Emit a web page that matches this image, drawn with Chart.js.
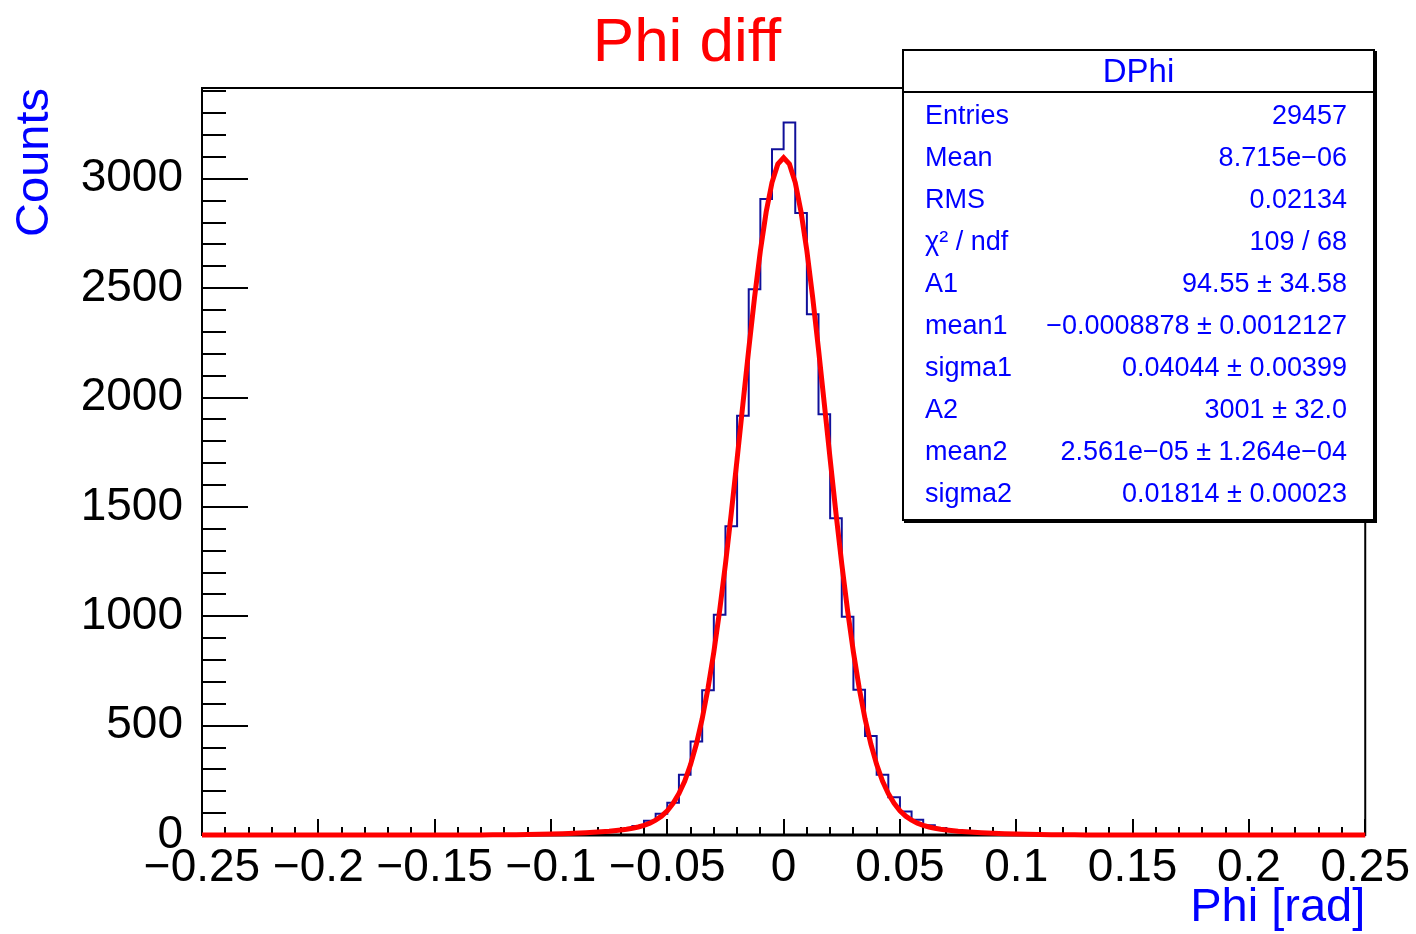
<!DOCTYPE html>
<html>
<head>
<meta charset="utf-8">
<title>Phi diff</title>
<script src="https://cdn.jsdelivr.net/npm/chart.js@4.4.1/dist/chart.umd.min.js"></script>
<style>
  body { margin: 0; background: #fff; font-family: "Liberation Sans", Arial, sans-serif; }
  #wrap { position: relative; width: 1416px; height: 934px; overflow: hidden; }
  #title { position: absolute; left: 487px; top: 9px; width: 400px; text-align: center;
           font-size: 62px; line-height: 1; color: #ff0000; }
  #stats { position: absolute; left: 902px; top: 49px; width: 469px; background: #fff;
           border: 2px solid #000; color: #0000ff; box-shadow: 2px 2px 0 #000; }
  #stats .hdr { height: 40px; line-height: 40px; text-align: center; font-size: 33px;
                border-bottom: 2px solid #000; }
  #stats .rows { padding: 1px 26px 5px 21px; }
  #stats .row { display: flex; justify-content: space-between; height: 42px; line-height: 42px;
                font-size: 27px; white-space: nowrap; }
</style>
</head>
<body>
<div id="wrap">
  <canvas id="chartCanvas" width="1416" height="934"></canvas>
  <div id="title">Phi diff</div>
  <div id="stats"><div class="hdr">DPhi</div><div class="rows" id="statRows"></div></div>
</div>
<script>
// histogram: 100 bins of 0.005 from -0.25 to 0.25
const binLow = -0.25;
const binWidth = 0.005;
const counts = [
  0, 0, 0, 0, 0, 0, 0, 0, 0, 0,
  0, 0, 0, 0, 0, 0, 0, 0, 0, 0,
  0, 1, 0, 1, 1, 1, 2, 1, 3, 4,
  5, 6, 9, 11, 14, 19, 28, 41, 65, 97,
  147, 276, 427, 662, 1007, 1411, 1917, 2495, 2908, 3135,
  3257, 2844, 2381, 1923, 1448, 998, 664, 453, 276, 173,
  108, 70, 45, 31, 22, 16, 12, 9, 7, 5,
  4, 3, 2, 2, 1, 1, 0, 1, 0, 0,
  0, 0, 0, 0, 0, 0, 0, 0, 0, 0,
  0, 0, 0, 0, 0, 0, 0, 0, 0, 0
];

// fitted double gaussian
const fitX = [-0.25, -0.13, -0.125, -0.12, -0.115, -0.11, -0.105, -0.1, -0.095, -0.09, -0.085, -0.08,
  -0.075, -0.07, -0.0675, -0.065, -0.0625, -0.06, -0.0575, -0.055, -0.0525, -0.05, -0.0475, -0.045,
  -0.0425, -0.04, -0.0375, -0.035, -0.0325, -0.03, -0.0275, -0.025, -0.0225, -0.02, -0.0175, -0.015,
  -0.0125, -0.01, -0.0075, -0.005, -0.0025, 0, 0.0025, 0.005, 0.0075, 0.01, 0.0125, 0.015, 0.0175,
  0.02, 0.0225, 0.025, 0.0275, 0.03, 0.0325, 0.035, 0.0375, 0.04, 0.0425, 0.045, 0.0475, 0.05, 0.0525,
  0.055, 0.0575, 0.06, 0.0625, 0.065, 0.0675, 0.07, 0.075, 0.08, 0.085, 0.09, 0.095, 0.1, 0.105, 0.11,
  0.115, 0.12, 0.125, 0.13, 0.25];
const fitY = [0, 0.5, 0.8, 1.2, 1.7, 2.3, 3.3, 4.5, 6, 7.9, 10.4, 13.6,
  17.5, 23, 26, 31, 36.5, 44, 54, 68, 86, 111, 145, 189,
  247, 322, 416, 531, 671, 836, 1026, 1239, 1471, 1718, 1970, 2220,
  2457, 2670, 2848, 2983, 3067, 3096, 3067, 2983, 2848, 2670, 2457, 2220, 1970,
  1718, 1471, 1239, 1026, 836, 671, 531, 416, 322, 247, 189, 145, 111, 86,
  68, 54, 44, 36.5, 31, 26, 23, 17.5, 13.6, 10.4, 7.9, 6, 4.5, 3.3, 2.3,
  1.7, 1.2, 0.8, 0.5, 0];

// axis tick labels
const xTicks = [-0.25, -0.2, -0.15, -0.1, -0.05, 0, 0.05, 0.1, 0.15, 0.2, 0.25];
const xTickLabels = ["\u22120.25", "\u22120.2", "\u22120.15", "\u22120.1", "\u22120.05", "0", "0.05", "0.1", "0.15", "0.2", "0.25"];
const yTicks = [0, 500, 1000, 1500, 2000, 2500, 3000];
const yTickLabels = ["0", "500", "1000", "1500", "2000", "2500", "3000"];

const statNames = ["Entries", "Mean", "RMS", "\u03C7\u00B2 / ndf", "A1", "mean1", "sigma1", "A2", "mean2", "sigma2"];
const statValues = ["29457", "8.715e\u221206", "0.02134", "109 / 68", "94.55 \u00B1 34.58",
  "\u22120.0008878 \u00B1 0.0012127", "0.04044 \u00B1 0.00399", "3001 \u00B1 32.0",
  "2.561e\u221205 \u00B1 1.264e\u221204", "0.01814 \u00B1 0.00023"];

const xMin = -0.25, xMax = 0.25, yMax = 3415;
const FONT = "'Liberation Sans', Arial, sans-serif";

// stats box rows
const rowsDiv = document.getElementById('statRows');
statNames.forEach((name, i) => {
    const row = document.createElement('div');
    row.className = 'row';
    const a = document.createElement('span');
    a.textContent = name;
    const b = document.createElement('span');
    b.textContent = statValues[i];
    row.appendChild(a);
    row.appendChild(b);
    rowsDiv.appendChild(row);
});

const histPoints = counts.map((c, i) => ({ x: binLow + i * binWidth, y: c }));
histPoints.push({ x: binLow + counts.length * binWidth, y: counts[counts.length - 1] });
const fitPoints = fitX.map((x, i) => ({ x: x, y: fitY[i] }));

// ROOT-like frame with inward ticks
const rootAxes = {
    id: 'rootAxes',
    beforeDatasetsDraw(chart) {
        const { ctx, chartArea: a, scales: { x, y } } = chart;
        ctx.save();
        ctx.strokeStyle = '#000';
        ctx.lineWidth = 2;
        ctx.strokeRect(a.left, a.top, a.right - a.left, a.bottom - a.top);
        ctx.beginPath();
        for (let v = 0; v <= yMax; v += 100) {
            const py = Math.round(y.getPixelForValue(v));
            const len = v % 500 === 0 ? 46 : 24;
            ctx.moveTo(a.left, py);
            ctx.lineTo(a.left + len, py);
        }
        for (let k = -25; k <= 25; k++) {
            const px = Math.round(x.getPixelForValue(k / 100));
            const len = k % 5 === 0 ? 16 : 8;
            ctx.moveTo(px, a.bottom);
            ctx.lineTo(px, a.bottom - len);
        }
        ctx.stroke();
        ctx.lineWidth = 3;
        ctx.beginPath();
        ctx.moveTo(a.left, a.bottom);
        ctx.lineTo(a.right, a.bottom);
        ctx.stroke();
        ctx.restore();
    }
};

const ctx = document.getElementById('chartCanvas').getContext('2d');
new Chart(ctx, {
    type: 'line',
    data: {
        datasets: [{
            label: 'fit',
            data: fitPoints,
            borderColor: '#ff0000',
            borderWidth: 5,
            pointRadius: 0,
            tension: 0,
            fill: false,
            clip: 10
        }, {
            label: 'DPhi',
            data: histPoints,
            stepped: 'before',
            borderColor: '#10109a',
            borderWidth: 2,
            pointRadius: 0,
            fill: false,
            clip: 10
        }]
    },
    options: {
        responsive: false,
        animation: false,
        devicePixelRatio: 1,
        layout: { padding: { left: 0, right: 50, top: 88, bottom: 0 } },
        plugins: { legend: { display: false }, tooltip: { enabled: false } },
        scales: {
            x: {
                type: 'linear',
                min: xMin,
                max: xMax,
                border: { display: false },
                grid: { display: false, drawTicks: false },
                afterBuildTicks(s) { s.ticks = xTicks.map(v => ({ value: v })); },
                ticks: {
                    autoSkip: false,
                    maxRotation: 0,
                    padding: 6,
                    color: '#000',
                    font: { family: FONT, size: 46 },
                    callback: (v, i) => xTickLabels[i]
                },
                title: {
                    display: true, text: 'Phi [rad]', align: 'end', color: '#0000ff',
                    font: { family: FONT, size: 47, lineHeight: 1.1 }, padding: { top: 0, bottom: 0 }
                },
                afterFit(s) { s.height = 99; }
            },
            y: {
                min: 0,
                max: yMax,
                border: { display: false },
                grid: { display: false, drawTicks: false },
                afterBuildTicks(s) { s.ticks = yTicks.map(v => ({ value: v })); },
                ticks: {
                    autoSkip: false,
                    padding: 19,
                    color: '#000',
                    font: { family: FONT, size: 46 },
                    callback: (v, i) => yTickLabels[i]
                },
                title: {
                    display: true, text: 'Counts', align: 'end', color: '#0000ff',
                    font: { family: FONT, size: 47 }, padding: { top: 7, bottom: 0 }
                },
                afterFit(s) { s.width = 202; }
            }
        }
    },
    plugins: [rootAxes]
});
</script>
</body>
</html>
